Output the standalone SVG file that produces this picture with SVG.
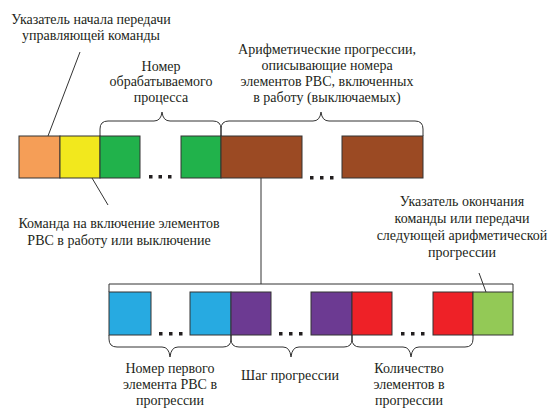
<svg xmlns="http://www.w3.org/2000/svg" width="552" height="411" viewBox="0 0 552 411">
<style>
.b{stroke:#333;stroke-width:1}
.ln{fill:none;stroke:#333;stroke-width:1}
.dot{fill:#231f20}
</style>
<rect width="552" height="411" fill="#fff"/>
<g id="connectors">
<path class="ln" d="M80 52 L48 136"/>
<path class="ln" d="M92 178 L108 205"/>
<path class="ln" d="M261 178 V284"/>
<path class="ln" d="M109 292 V284 H513 V292"/>
<path class="ln" d="M479 273 L486 292"/>
<path class="ln" d="M100 136 V129 Q100 121 108 121 H154 Q161 121 162 112 Q163 121 170 121 H213 Q221 121 221 129 V136"/>
<path class="ln" d="M221 136 V129 Q221 121 229 121 H313 Q320 121 321 112 Q322 121 329 121 H415 Q423 121 423 129 V136"/>
<path class="ln" d="M109 335 V339 Q109 347 117 347 H162 Q169 347 170 357 Q171 347 178 347 H223 Q231 347 231 339 V335"/>
<path class="ln" d="M231 335 V339 Q231 347 239 347 H283 Q290 347 291 357 Q292 347 299 347 H344 Q352 347 352 339 V335"/>
<path class="ln" d="M352 335 V339 Q352 347 360 347 H403 Q410 347 411 357 Q412 347 419 347 H465 Q473 347 473 339 V335"/>
</g>
<g id="top-row">
<rect class="b" x="19" y="136" width="41" height="42" fill="#F59E57"/>
<rect class="b" x="60" y="136" width="40" height="42" fill="#F2E81D"/>
<rect class="b" x="100" y="136" width="40" height="42" fill="#21B24B"/>
<rect class="b" x="181" y="136" width="40" height="42" fill="#21B24B"/>
<rect class="b" x="221" y="136" width="81" height="42" fill="#9B4A23"/>
<rect class="b" x="342" y="136" width="81" height="42" fill="#9B4A23"/>
<rect class="dot" x="149" y="175" width="3.5" height="3.5"/>
<rect class="dot" x="158.5" y="175" width="3.5" height="3.5"/>
<rect class="dot" x="168" y="175" width="3.5" height="3.5"/>
<rect class="dot" x="310" y="176" width="3.5" height="3.5"/>
<rect class="dot" x="320" y="176" width="3.5" height="3.5"/>
<rect class="dot" x="330" y="176" width="3.5" height="3.5"/>
</g>
<g id="bottom-row">
<rect class="b" x="109" y="292" width="42" height="43" fill="#27AAE1"/>
<rect class="b" x="190" y="292" width="41" height="43" fill="#27AAE1"/>
<rect class="b" x="231" y="292" width="40" height="43" fill="#6C3A92"/>
<rect class="b" x="311" y="292" width="41" height="43" fill="#6C3A92"/>
<rect class="b" x="352" y="292" width="40" height="43" fill="#EE2127"/>
<rect class="b" x="433" y="292" width="40" height="43" fill="#EE2127"/>
<rect class="b" x="473" y="292" width="40" height="43" fill="#93C956"/>
<rect class="dot" x="159" y="332" width="3.5" height="3.5"/>
<rect class="dot" x="169" y="332" width="3.5" height="3.5"/>
<rect class="dot" x="179" y="332" width="3.5" height="3.5"/>
<rect class="dot" x="279" y="332" width="3.5" height="3.5"/>
<rect class="dot" x="289" y="332" width="3.5" height="3.5"/>
<rect class="dot" x="299" y="332" width="3.5" height="3.5"/>
<rect class="dot" x="401" y="332" width="3.5" height="3.5"/>
<rect class="dot" x="411" y="332" width="3.5" height="3.5"/>
<rect class="dot" x="421" y="332" width="3.5" height="3.5"/>
</g>
<g id="label-start" font-family="Liberation Serif" font-size="14" fill="#231f20" text-anchor="middle">
<text x="91" y="24">Указатель начала передачи</text>
<text x="91" y="40">управляющей команды</text>
</g>
<g id="label-process" font-family="Liberation Serif" font-size="14" fill="#231f20" text-anchor="middle">
<text x="161" y="71">Номер</text>
<text x="161" y="86">обрабатываемого</text>
<text x="161" y="102">процесса</text>
</g>
<g id="label-progressions" font-family="Liberation Serif" font-size="14" fill="#231f20" text-anchor="middle">
<text x="327" y="54">Арифметические прогрессии,</text>
<text x="327" y="70">описывающие номера</text>
<text x="327" y="86">элементов РВС, включенных</text>
<text x="327" y="102">в работу (выключаемых)</text>
</g>
<g id="label-command" font-family="Liberation Serif" font-size="14" fill="#231f20" text-anchor="middle">
<text x="119" y="228">Команда на включение элементов</text>
<text x="119" y="245">РВС в работу или выключение</text>
</g>
<g id="label-end" font-family="Liberation Serif" font-size="14" fill="#231f20" text-anchor="middle">
<text x="462" y="206">Указатель окончания</text>
<text x="462" y="223">команды или передачи</text>
<text x="462" y="240">следующей арифметической</text>
<text x="462" y="257">прогрессии</text>
</g>
<g id="label-first" font-family="Liberation Serif" font-size="14" fill="#231f20" text-anchor="middle">
<text x="170" y="373">Номер первого</text>
<text x="170" y="389">элемента РВС в</text>
<text x="170" y="405">прогрессии</text>
</g>
<g id="label-step" font-family="Liberation Serif" font-size="14" fill="#231f20" text-anchor="middle">
<text x="290" y="380">Шаг прогрессии</text>
</g>
<g id="label-count" font-family="Liberation Serif" font-size="14" fill="#231f20" text-anchor="middle">
<text x="409" y="373">Количество</text>
<text x="409" y="389">элементов в</text>
<text x="409" y="405">прогрессии</text>
</g>
</svg>
